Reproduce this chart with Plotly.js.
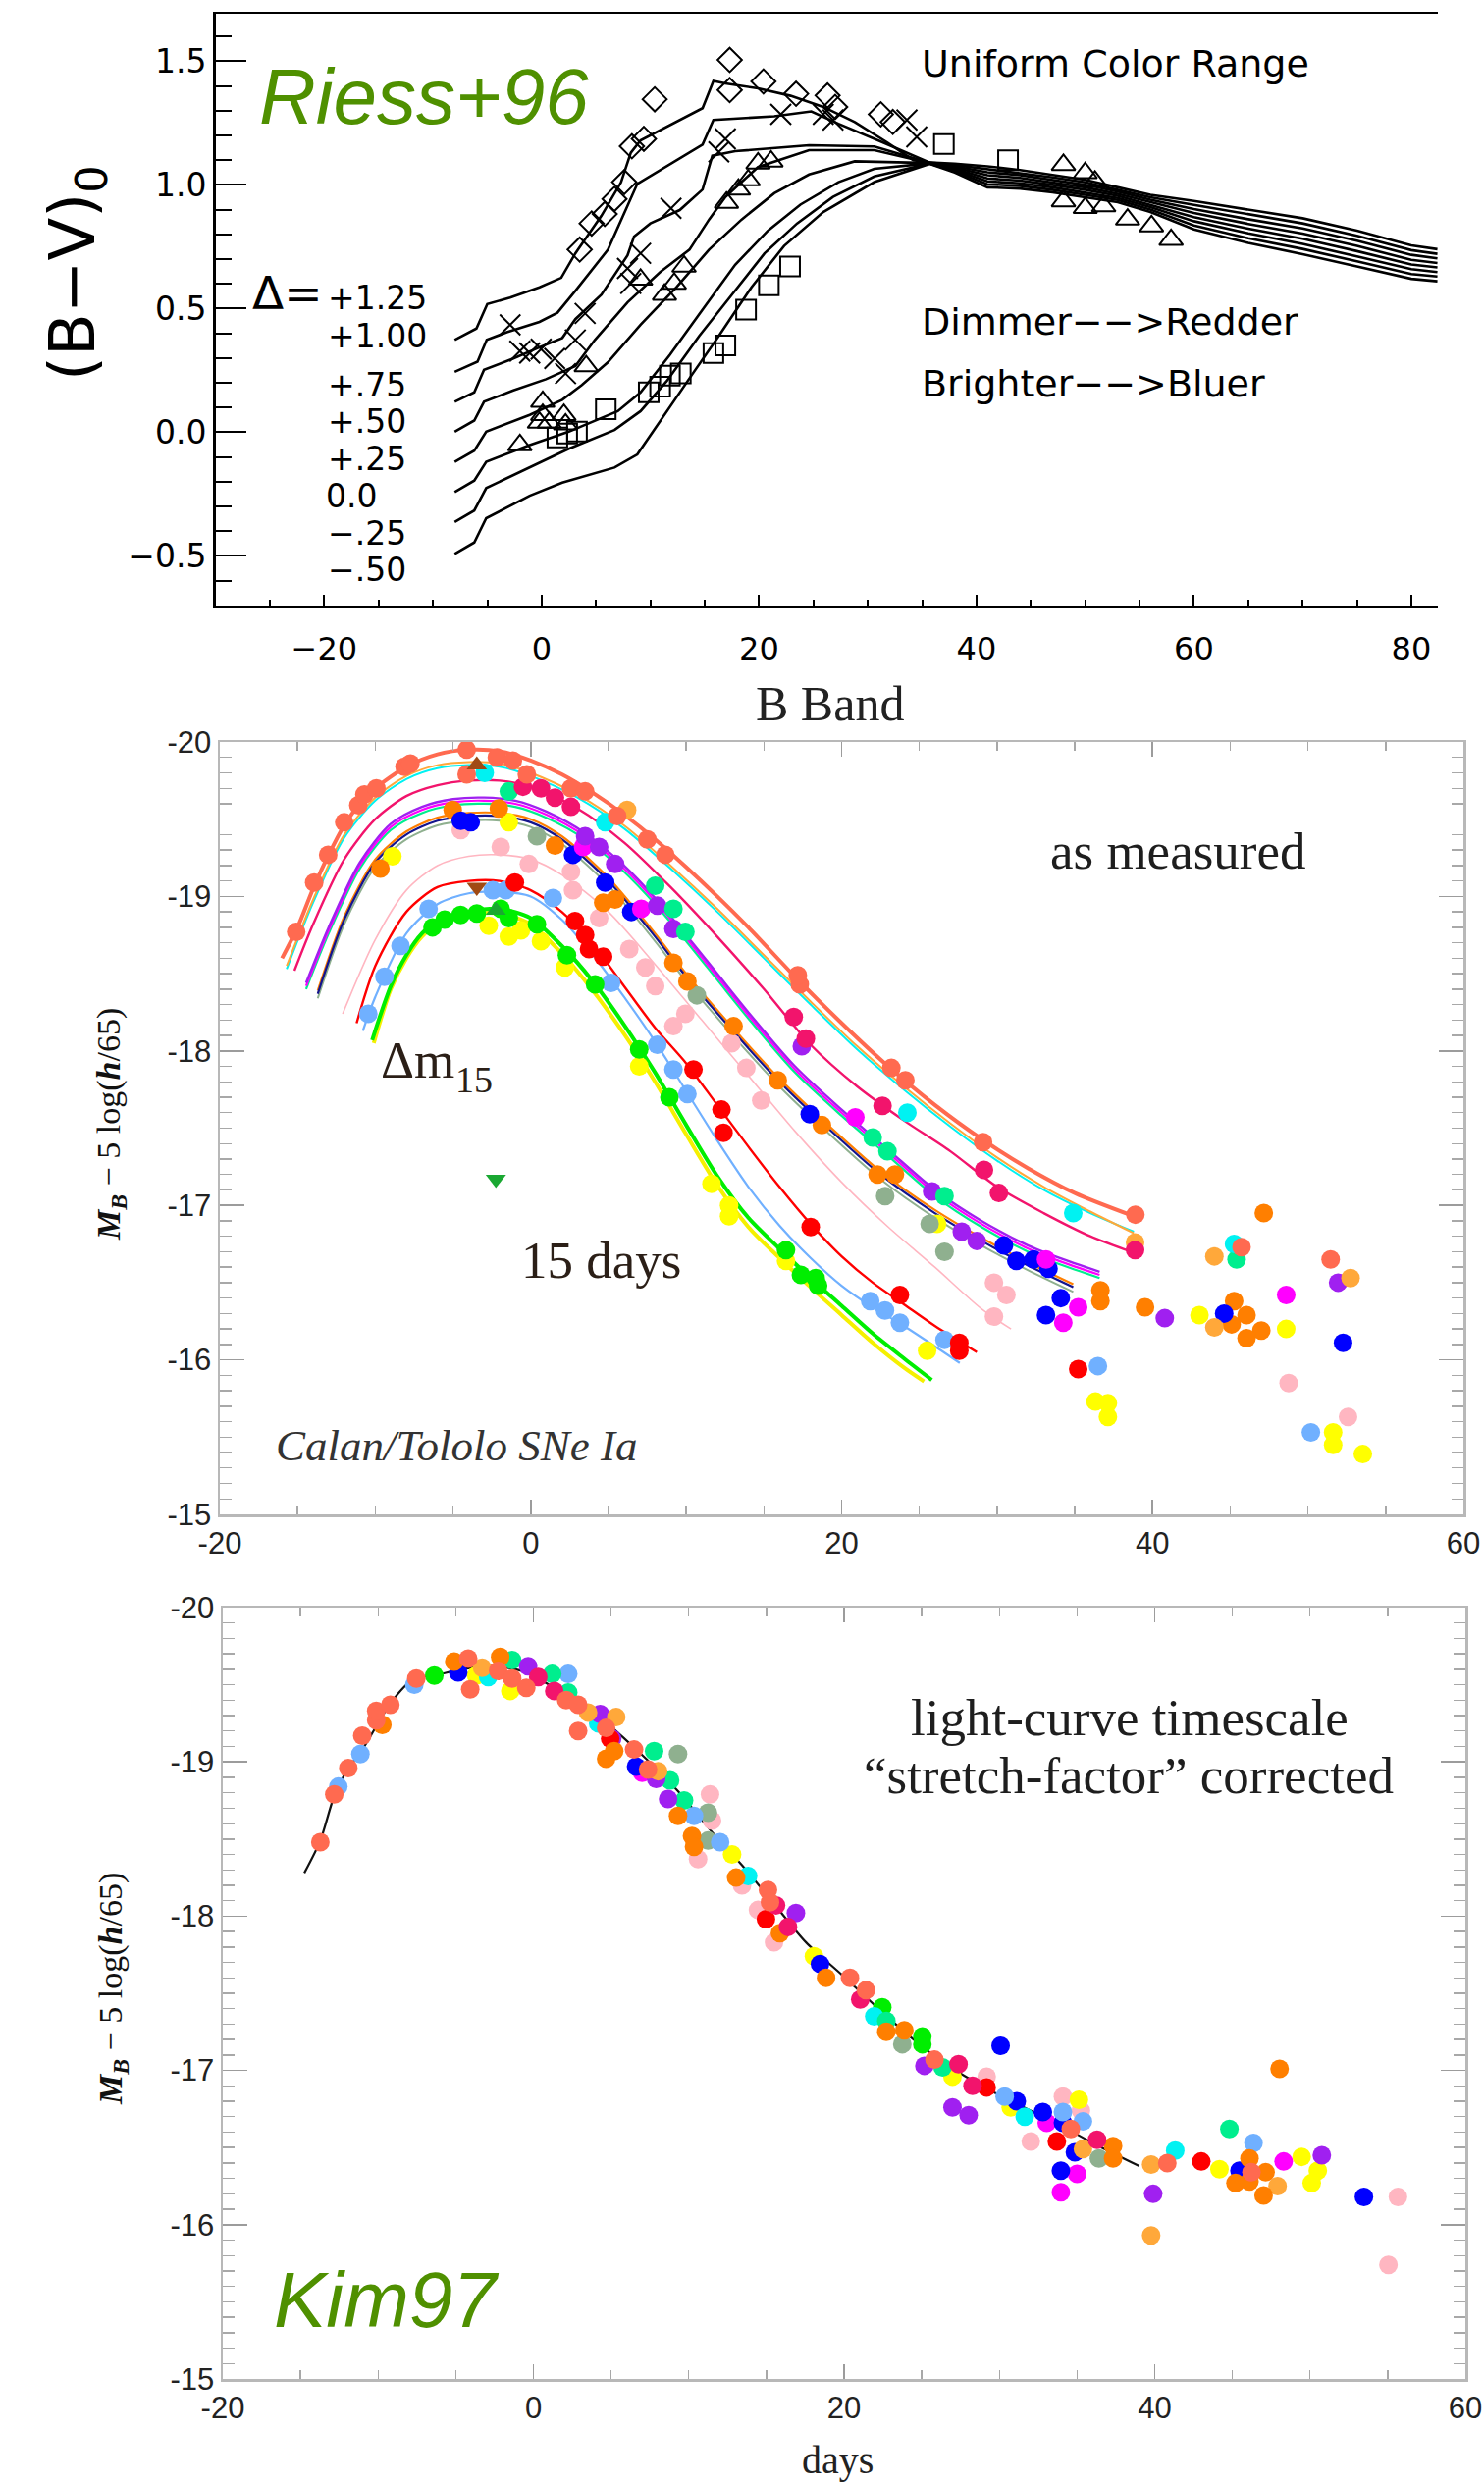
<!DOCTYPE html>
<html><head><meta charset="utf-8">
<script src="https://cdn.plot.ly/plotly-3.0.1.min.js"></script>
<style>html,body{margin:0;padding:0;background:#fff}#chart{width:1512px;height:2530px}</style>
</head><body><div id="chart"></div>
<script>
// ---------------- Panel 1 (Riess+96) : (B-V)0 colour curves ----------------
const riessC1X=[-8.0,-6.0,-5.0,-2.9,-0.2,1.8,3.1,5.5,7.3,8.2,9.1,14.8,15.8,16.9,19.9,22.9,25.9,28.8,31.8,34.2,35.7,38,41,44,47,50,53,56,60,65,70,75,80,82.4];
const riessC1Y=[0.373,0.419,0.518,0.544,0.586,0.624,0.723,0.875,1.01,1.13,1.18,1.31,1.42,1.41,1.39,1.36,1.315,1.254,1.171,1.10,1.09,1.085,1.075,1.06,1.04,1.02,0.99,0.96,0.935,0.90,0.865,0.815,0.755,0.74];
const riessC2X=[-8.0,-5.9,-5.05,-3.2,-0.2,1.45,3.1,6.1,8.8,14.8,15.8,21.4,24.8,27.3,31.2,35.7,38,41,44,47,50,53,56,60,65,70,75,80,82.4];
const riessC2Y=[0.244,0.285,0.373,0.404,0.446,0.483,0.571,0.738,1.004,1.163,1.262,1.277,1.297,1.247,1.175,1.09,1.08,1.063,1.049,1.03,1.01,0.981,0.95,0.919,0.881,0.844,0.794,0.736,0.721];
const riessC3X=[-8.0,-6.2,-5.3,-2.6,-0.2,1.9,3.1,5.5,7.9,8.5,10.0,12.7,14.8,15.7,17.8,24.6,30.6,35.7,38,41,44,47,50,53,56,60,65,70,75,80,82.4];
const riessC3Y=[0.123,0.161,0.252,0.298,0.343,0.381,0.457,0.556,0.715,0.791,0.844,0.898,0.981,1.118,1.136,1.16,1.155,1.089,1.075,1.051,1.039,1.02,1.0,0.973,0.94,0.902,0.861,0.824,0.774,0.717,0.703];
const riessC4X=[-8.0,-6.2,-5.3,-2.6,0.4,3.1,4.9,7.9,10.9,13.6,15.4,16.9,19.9,24.6,30.6,35.7,38,41,44,47,50,53,56,60,65,70,75,80,82.4];
const riessC4Y=[0.002,0.047,0.123,0.169,0.214,0.267,0.373,0.525,0.647,0.738,0.86,0.951,1.072,1.14,1.14,1.088,1.07,1.039,1.028,1.01,0.99,0.964,0.93,0.886,0.842,0.803,0.753,0.697,0.684];
const riessC5X=[-8.0,-6.2,-5.1,-1.1,1.9,3.7,6.1,9.1,12.4,15.4,18.4,21.4,24.6,28.8,35.7,38,41,44,47,50,53,56,60,65,70,75,80,82.4];
const riessC5Y=[-0.120,-0.075,0.002,0.07,0.131,0.191,0.283,0.434,0.586,0.738,0.86,0.966,1.042,1.095,1.088,1.065,1.026,1.017,1.0,0.98,0.956,0.92,0.869,0.823,0.782,0.732,0.678,0.666];
const riessC6X=[-8.0,-6.2,-5.1,-1.1,2.5,7.0,9.1,11.8,14.8,17.8,20.8,23.8,27.3,30.6,35.7,38,41,44,47,50,53,56,60,65,70,75,80,82.4];
const riessC6Y=[-0.242,-0.196,-0.12,-0.052,0.002,0.085,0.161,0.313,0.495,0.677,0.814,0.92,1.011,1.065,1.087,1.06,1.014,1.006,0.99,0.97,0.947,0.91,0.853,0.804,0.761,0.711,0.659,0.647];
const riessC7X=[-8.0,-6.2,-5.1,-1.1,2.5,6.7,9.1,11.5,14.5,17.5,20.5,23.5,26.8,30.6,35.7,38,41,44,47,50,53,56,60,65,70,75,80,82.4];
const riessC7Y=[-0.363,-0.317,-0.226,-0.143,-0.067,0.009,0.085,0.206,0.389,0.556,0.723,0.844,0.951,1.034,1.086,1.055,1.002,0.996,0.98,0.96,0.939,0.90,0.836,0.784,0.741,0.691,0.639,0.629];
const riessC8X=[-8.0,-6.2,-5.1,-1.1,1.9,6.7,8.8,11.5,13.9,16.3,19.3,22.3,25.9,30.6,35.7,38,41,44,47,50,53,56,60,65,70,75,80,82.4];
const riessC8Y=[-0.492,-0.446,-0.348,-0.257,-0.204,-0.143,-0.09,0.085,0.237,0.389,0.586,0.753,0.89,1.011,1.085,1.05,0.99,0.985,0.97,0.95,0.93,0.89,0.82,0.765,0.72,0.67,0.62,0.61];

const riessDiamondX=[17.3,10.4,20.4,17.3,23.4,26.3,27.0,31.2,32.3,9.4,8.3,7.6,6.7,5.8,4.6,3.5];
const riessDiamondY=[1.505,1.346,1.418,1.383,1.368,1.361,1.315,1.285,1.254,1.186,1.156,1.011,0.943,0.882,0.844,0.738];
const riessCrossX=[-2.9,-2.0,-1.1,-0.05,1.2,2.2,3.1,4.0,7.9,8.2,9.1,11.9,16.3,16.9,22.0,25.9,26.8,33.6,34.5];
const riessCrossY=[0.434,0.328,0.32,0.336,0.298,0.237,0.373,0.48,0.662,0.601,0.723,0.905,1.133,1.186,1.285,1.285,1.262,1.262,1.194];
const riessTriX=[-2.0,0.1,0.1,-0.2,0.7,2.05,2.2,4.1,9.1,11.3,12.2,13.1,17.0,18.1,19.0,19.9,21.1,48.0,50.0,50.9,48.0,50.0,51.7,53.9,56.1,57.9];
const riessTriY=[-0.052,0.123,0.07,0.039,0.039,0.07,0.032,0.267,0.617,0.556,0.601,0.67,0.928,0.981,1.019,1.087,1.095,1.081,1.048,1.014,0.934,0.907,0.914,0.86,0.833,0.778];
const riessSquareX=[1.45,2.35,3.25,5.9,9.85,10.9,11.8,12.8,15.8,16.9,18.8,20.9,22.85,37.0,42.9];
const riessSquareY=[-0.021,-0.006,0.002,0.093,0.161,0.184,0.229,0.237,0.32,0.351,0.495,0.594,0.67,1.165,1.10];
const riessDeltaLabels=['+1.25','+1.00','+.75','+.50','+.25','0.0','\u2212.25','\u2212.50'];

// ---------------- Panel 2 (Calan/Tololo, as measured) ----------------
const calTomatoLineX=[-16,-15,-14,-13,-12,-11,-10,-8,-6,-4,-2,0,2,4,6,8,10,12,14,17,20,23,26,29,32,35,38.8];
const calTomatoLineY=[-18.60,-18.80,-19.05,-19.27,-19.46,-19.60,-19.70,-19.84,-19.92,-19.95,-19.94,-19.88,-19.79,-19.67,-19.53,-19.37,-19.19,-19.00,-18.80,-18.48,-18.18,-17.90,-17.65,-17.43,-17.24,-17.08,-16.93];
const calSandyLineX=[-15.7,-14,-12,-10,-8,-6,-4,-2,0,3,6,9,12,15,18,21,24,27,30,33,36,38.8];
const calSandyLineY=[-18.55,-18.98,-19.40,-19.64,-19.78,-19.85,-19.87,-19.86,-19.80,-19.66,-19.46,-19.20,-18.92,-18.62,-18.32,-18.03,-17.77,-17.53,-17.31,-17.12,-16.96,-16.82];
const calCyanLineY=[-18.53,-18.96,-19.38,-19.62,-19.76,-19.83,-19.85,-19.84,-19.78,-19.64,-19.44,-19.18,-18.90,-18.60,-18.30,-18.01,-17.75,-17.51,-17.29,-17.10,-16.95,-16.83];
const calDeeppinkLineX=[-15.2,-14,-12,-10,-8,-6,-4,-2,0,3,6,9,12,15,18,21,24,27,30,33,36,38.9];
const calDeeppinkLineY=[-18.52,-18.82,-19.24,-19.50,-19.65,-19.72,-19.75,-19.75,-19.71,-19.57,-19.35,-19.06,-18.74,-18.40,-18.04,-17.77,-17.55,-17.35,-17.12,-16.95,-16.80,-16.69];
const calPurpleLineX=[-14.45,-13,-11,-9,-7,-5,-3,-1,1,3.5,6,8,10,12,14,17,20,23,26,29,32,34,36.6];
const calPurpleLineY=[-18.44,-18.80,-19.22,-19.47,-19.58,-19.63,-19.64,-19.62,-19.55,-19.41,-19.20,-18.99,-18.75,-18.50,-18.25,-17.90,-17.62,-17.36,-17.10,-16.90,-16.74,-16.66,-16.57];
const calMagentaLineY=[-18.42,-18.78,-19.20,-19.45,-19.56,-19.61,-19.62,-19.60,-19.53,-19.39,-19.18,-18.97,-18.73,-18.48,-18.23,-17.88,-17.60,-17.34,-17.08,-16.88,-16.72,-16.64,-16.55];
const calSpringLineY=[-18.40,-18.76,-19.18,-19.43,-19.54,-19.59,-19.60,-19.58,-19.51,-19.37,-19.16,-18.95,-18.71,-18.46,-18.21,-17.86,-17.58,-17.32,-17.06,-16.86,-16.70,-16.62,-16.53];
const calNavyLineX=[-13.7,-12,-10,-8,-6,-4,-2,0,2,5,8,10,13,16,18.7,22.5,26,29,32,34.9];
const calNavyLineY=[-18.37,-18.85,-19.22,-19.40,-19.49,-19.52,-19.52,-19.48,-19.37,-19.10,-18.74,-18.48,-18.13,-17.80,-17.54,-17.20,-16.95,-16.77,-16.61,-16.47];
const calOrangeLineY=[-18.39,-18.87,-19.24,-19.42,-19.51,-19.54,-19.54,-19.50,-19.39,-19.12,-18.76,-18.50,-18.15,-17.82,-17.56,-17.22,-16.97,-16.79,-16.63,-16.49];
const calSeaLineY=[-18.34,-18.82,-19.19,-19.37,-19.46,-19.49,-19.49,-19.45,-19.34,-19.07,-18.71,-18.45,-18.10,-17.77,-17.51,-17.17,-16.92,-16.74,-16.58,-16.44];
const calPinkLineX=[-12.1,-10,-8,-6,-4,-2,0,2,5,8,11,14,17,20,23,26,29,30.9];
const calPinkLineY=[-18.24,-18.72,-19.04,-19.20,-19.26,-19.27,-19.24,-19.14,-18.90,-18.56,-18.20,-17.84,-17.48,-17.15,-16.86,-16.60,-16.33,-16.20];
const calRedLineX=[-11.2,-10,-8,-6,-4,-2,0,2,4,6,8,10,12,14,16,18,20,22,24,26,28.7];
const calRedLineY=[-18.18,-18.55,-18.90,-19.06,-19.10,-19.10,-19.04,-18.90,-18.69,-18.42,-18.15,-17.92,-17.65,-17.38,-17.12,-16.88,-16.67,-16.50,-16.36,-16.22,-16.05];
const calLightblueLineX=[-10.8,-10,-8,-6,-4,-2,0,2,4,6,8,10,12,14,16,18,20,22,24,27.6];
const calLightblueLineY=[-18.13,-18.35,-18.76,-18.95,-19.02,-19.03,-19.00,-18.85,-18.62,-18.35,-18.06,-17.74,-17.42,-17.12,-16.87,-16.66,-16.48,-16.34,-16.22,-15.98];
const calGreenLineX=[-10.2,-9,-8,-7,-6,-4,-2,0,2,4,6,8,10,12,14,16,18,20,22,24,25.8];
const calGreenLineY=[-18.07,-18.42,-18.62,-18.76,-18.84,-18.90,-18.92,-18.86,-18.68,-18.45,-18.17,-17.86,-17.52,-17.19,-16.92,-16.72,-16.53,-16.35,-16.17,-16.01,-15.87];
const calYellowLineX=[-10.1,-9,-8,-7,-6,-4,-2,0,2,4,6,8,10,12,14,16,18,20,22,24,25.3];
const calYellowLineY=[-18.05,-18.40,-18.60,-18.74,-18.82,-18.88,-18.89,-18.82,-18.63,-18.39,-18.11,-17.80,-17.46,-17.13,-16.86,-16.66,-16.47,-16.29,-16.11,-15.95,-15.86];

const calTomatoX=[-15.09,-13.93,-13.03,-12.0,-11.09,-10.7,-9.93,-8.12,-7.74,-4.12,-4.12,-2.18,-1.15,-0.25,2.59,3.5,5.56,7.5,8.66,17.31,17.18,23.2,24.1,29.1,38.9,45.73,51.46];
const calTomatoY=[-18.77,-19.09,-19.27,-19.48,-19.59,-19.66,-19.70,-19.84,-19.86,-19.95,-19.79,-19.90,-19.88,-19.79,-19.70,-19.68,-19.52,-19.37,-19.27,-18.43,-18.49,-17.89,-17.81,-17.41,-16.94,-16.73,-16.65];
const calCyanX=[-2.96,4.79,24.23,34.9,45.25];
const calCyanY=[-19.80,-19.48,-17.60,-16.95,-16.75];
const calSandyX=[6.2,38.88,43.98,52.74,43.98];
const calSandyY=[-19.56,-16.76,-16.67,-16.53,-16.21];
const calDeeppinkX=[-0.5,0.66,1.56,2.59,16.92,17.7,22.63,29.16,30.12,38.88];
const calDeeppinkY=[-19.71,-19.70,-19.64,-19.58,-18.22,-18.08,-17.645,-17.23,-17.08,-16.71];
const calSpringX=[-1.41,8.01,9.18,9.95,22.0,22.95,26.62,45.41];
const calSpringY=[-19.68,-19.07,-18.92,-18.77,-17.44,-17.35,-17.06,-16.65];
const calPurpleX=[3.5,4.4,5.43,8.14,9.18,17.44,25.82,27.73,28.69,40.79,51.94];
const calPurpleY=[-19.39,-19.32,-19.21,-18.94,-18.79,-18.03,-17.09,-16.83,-16.77,-16.27,-16.50];
const calMagentaX=[3.37,7.11,20.88,33.15,35.22,34.26,48.6];
const calMagentaY=[-19.32,-18.92,-17.57,-16.65,-16.34,-16.24,-16.42];
const calBlueX=[-4.5,-3.86,2.72,4.79,6.47,17.95,30.44,31.24,32.35,33.31,34.1,33.15,44.61,52.26];
const calBlueY=[-19.49,-19.48,-19.27,-19.09,-18.90,-17.59,-16.74,-16.64,-16.65,-16.59,-16.40,-16.29,-16.30,-16.11];
const calOrangeX=[-9.67,-5.02,-2.05,1.56,4.66,5.43,9.18,10.08,13.05,15.89,18.73,22.31,23.43,36.65,36.65,39.52,45.25,46.05,45.09,47.0,46.05,47.16];
const calOrangeY=[-19.18,-19.56,-19.57,-19.33,-18.96,-18.98,-18.57,-18.45,-18.16,-17.81,-17.52,-17.20,-17.20,-16.45,-16.38,-16.34,-16.38,-16.29,-16.23,-16.19,-16.14,-16.95];
const calSeaX=[0.4,10.69,22.8,25.66,26.62];
const calSeaY=[-19.39,-18.36,-17.06,-16.88,-16.70];
const calYellowX=[-8.9,-1.41,-2.7,-1.41,-0.63,0.66,2.2,6.98,11.63,12.76,12.76,16.42,25.5,26.14,43.02,48.6,36.33,37.13,37.13,51.62,51.62,53.53];
const calYellowY=[-19.26,-19.48,-18.81,-18.74,-18.78,-18.71,-18.54,-17.90,-17.14,-17.00,-16.93,-16.64,-16.06,-16.88,-16.29,-16.20,-15.73,-15.72,-15.63,-15.53,-15.45,-15.39];
const calPinkX=[-4.5,-1.93,-0.12,2.59,2.72,4.4,6.34,7.37,8.01,9.18,9.95,12.92,13.87,14.83,29.8,30.6,29.8,48.76,52.58];
const calPinkY=[-19.43,-19.32,-19.21,-19.16,-19.04,-18.86,-18.66,-18.54,-18.42,-18.16,-18.24,-18.05,-17.89,-17.68,-16.50,-16.42,-16.28,-15.85,-15.63];
const calRedX=[-1.02,2.85,3.5,3.75,4.66,10.47,12.27,12.4,18.01,23.75,27.57,27.57,35.22];
const calRedY=[-19.09,-18.84,-18.75,-18.66,-18.61,-17.88,-17.62,-17.47,-16.86,-16.42,-16.11,-16.06,-15.94];
const calLightblueX=[-10.45,-9.41,-8.38,-6.57,-2.44,-1.6,1.43,5.17,8.14,9.18,10.08,21.84,22.79,23.75,26.62,36.49,50.19];
const calLightblueY=[-18.24,-18.48,-18.68,-18.92,-19.04,-19.04,-18.99,-18.44,-18.04,-17.88,-17.72,-16.38,-16.32,-16.24,-16.13,-15.96,-15.53];
const calGreenX=[-6.32,-5.54,-4.51,-3.47,-1.93,-1.41,0.4,2.33,4.14,6.98,8.92,16.42,17.38,18.33,18.49];
const calGreenY=[-18.80,-18.85,-18.88,-18.89,-18.92,-18.86,-18.82,-18.62,-18.43,-18.01,-17.70,-16.71,-16.55,-16.53,-16.48];
const calBrownTriX=[-3.47,-3.47];
const calBrownTriY=[-19.85,-19.06];
const calGreenTriX=[-2.24,-2.24];
const calGreenTriY=[-18.91,-17.17];

// ---------------- Panel 3 (Kim97, stretch corrected) ----------------
const kimCurveX=[-14.75,-13.72,-12.82,-11.92,-11.14,-10.12,-9.21,-7.67,-6.38,-4.58,-2.52,-0.46,1.34,3.4,5.2,7.25,9.31,11.37,13.43,15.49,17.55,19.86,22,24,26,28,30,32,34,36,39];
const kimCurveY=[-18.28,-18.49,-18.78,-18.96,-19.06,-19.23,-19.38,-19.54,-19.56,-19.60,-19.62,-19.58,-19.48,-19.36,-19.21,-19.02,-18.81,-18.56,-18.33,-18.08,-17.83,-17.62,-17.42,-17.24,-17.08,-16.95,-16.84,-16.74,-16.64,-16.53,-16.38];
const kimTomatoX=[-13.72,-12.82,-11.92,-11.02,-10.12,-10.12,-9.21,-7.54,-4.07,-4.20,-2.27,-1.37,-0.46,2.11,2.88,2.88,4.68,6.48,7.38,15.10,15.23,20.38,21.41,25.82,34.60,40.81,46.23];
const kimTomatoY=[-18.48,-18.79,-18.96,-19.17,-19.27,-19.33,-19.37,-19.54,-19.47,-19.67,-19.59,-19.54,-19.48,-19.40,-19.37,-19.20,-19.22,-19.08,-18.95,-18.17,-18.09,-17.60,-17.52,-17.07,-16.62,-16.40,-16.34];
const kimLightblueX=[-12.56,-11.14,-7.67,2.24,10.34,12.02,30.34,34.09,35.38,46.36];
const kimLightblueY=[-18.84,-19.05,-19.50,-19.57,-18.65,-18.48,-16.83,-16.73,-16.67,-16.53];
const kimOrangeX=[-9.73,-5.10,-2.14,4.68,5.20,9.31,10.21,10.34,13.05,15.87,18.84,22.72,23.88,37.32,37.32,46.10,47.14,45.20,46.10,47.01,48.04];
const kimOrangeY=[-19.24,-19.65,-19.68,-19.02,-19.07,-18.65,-18.52,-18.45,-18.25,-17.89,-17.60,-17.25,-17.26,-16.51,-16.43,-16.43,-16.34,-16.27,-16.28,-16.19,-17.01];
const kimGreenX=[-6.38,22.46,25.04,25.04];
const kimGreenY=[-19.56,-17.41,-17.22,-17.17];
const kimBlueX=[-4.84,6.61,18.45,30.08,31.12,32.80,34.09,34.86,33.96,45.46,53.47];
const kimBlueY=[-19.58,-18.97,-17.69,-17.16,-16.80,-16.73,-16.66,-16.47,-16.35,-16.35,-16.18];
const kimYellowX=[-3.68,-1.49,12.79,18.06,26.98,30.73,35.12,44.17,49.46,50.50,50.11];
const kimYellowY=[-19.56,-19.46,-18.40,-17.74,-16.96,-16.76,-16.81,-16.36,-16.44,-16.35,-16.27];
const kimSandyX=[-3.30,3.52,5.33,8.03,35.38,39.77,39.77,47.91];
const kimSandyY=[-19.61,-19.32,-19.29,-18.94,-16.49,-16.39,-15.93,-16.25];
const kimCyanX=[-2.91,4.17,13.82,21.94,31.63,41.32];
const kimCyanY=[-19.55,-19.25,-18.26,-17.35,-16.70,-16.48];
const kimSpringX=[-1.37,1.21,2.24,7.77,8.80,9.70,22.72,26.34,44.81];
const kimSpringY=[-19.66,-19.57,-19.45,-19.07,-18.88,-18.75,-17.32,-17.02,-16.62];
const kimPurpleX=[-0.34,4.30,5.07,7.90,8.67,16.90,25.17,26.98,28.02,39.90,50.76];
const kimPurpleY=[-19.62,-19.31,-19.15,-18.89,-18.76,-18.02,-17.03,-16.76,-16.71,-16.20,-16.45];
const kimDeeppinkX=[0.31,1.34,15.62,16.39,21.04,27.37,28.27,36.29];
const kimDeeppinkY=[-19.55,-19.46,-18.07,-17.93,-17.46,-17.04,-16.90,-16.55];
const kimRedX=[4.94,14.97,29.18,33.70,43.00];
const kimRedY=[-19.15,-17.98,-16.89,-16.54,-16.41];
const kimSeaX=[9.31,11.24,11.24,23.75,36.41];
const kimSeaY=[-19.05,-18.67,-18.49,-17.17,-16.43];
const kimMagentaX=[7.00,33.05,35.00,33.96,48.30];
const kimMagentaY=[-18.93,-16.66,-16.33,-16.21,-16.41];
const kimPinkX=[11.37,11.50,10.60,13.43,14.46,15.49,29.18,34.09,35.25,32.02,55.66,55.05];
const kimPinkY=[-18.79,-18.62,-18.37,-18.20,-18.04,-17.83,-16.96,-16.83,-16.74,-16.54,-16.18,-15.74];

const magTickVals=[-20,-19,-18,-17,-16,-15];
const magTickText=['-20','-19','-18','-17','-16','-15'];
const dayTickVals=[-20,0,20,40,60];
const dayTickText=['-20','0','20','40','60'];

// ---------------- helpers ----------------
const W=1512,H=2530;
const fx=p=>p/W, fy=p=>1-p/H;
const C={tomato:'#ff6a50',cyan:'#00f2f2',sandy:'#ffa83a',deeppink:'#f2146c',purple:'#a020f0',magenta:'#ff00ff',spring:'#00ee8e',blue:'#0000ff',navy:'#14148c',orange:'#ff7f00',sea:'#8fb08f',yellow:'#ffff00',pink:'#ffb6c1',red:'#ff0000',lightblue:'#70b0ff',green:'#00ee00'};
const traces=[];
function bline(x,y){traces.push({type:'scatter',mode:'lines',x:x,y:y,xaxis:'x',yaxis:'y',line:{color:'#000',width:2.6},hoverinfo:'skip',showlegend:false});}
function bsym(x,y,sym,size){traces.push({type:'scatter',mode:'markers',x:x,y:y,xaxis:'x',yaxis:'y',marker:{symbol:sym,size:size,color:'#000',line:{color:'#000',width:2}},hoverinfo:'skip',showlegend:false});}
function cline(x,y,color,w,xa,ya){traces.push({type:'scatter',mode:'lines',x:x,y:y,xaxis:xa,yaxis:ya,line:{color:color,width:w,shape:'spline',smoothing:0.8},hoverinfo:'skip',showlegend:false});}
function cdots(x,y,color,xa,ya,size){traces.push({type:'scatter',mode:'markers',x:x,y:y,xaxis:xa,yaxis:ya,marker:{color:color,size:size||19,line:{width:0}},hoverinfo:'skip',showlegend:false});}

// panel 1
[[riessC1X,riessC1Y],[riessC2X,riessC2Y],[riessC3X,riessC3Y],[riessC4X,riessC4Y],[riessC5X,riessC5Y],[riessC6X,riessC6Y],[riessC7X,riessC7Y],[riessC8X,riessC8Y]].forEach(c=>bline(c[0],c[1]));
bsym(riessDiamondX,riessDiamondY,'diamond-open',19);
bsym(riessCrossX,riessCrossY,'x-thin-open',21);
bsym(riessTriX,riessTriY,'triangle-up-open',21);
bsym(riessSquareX,riessSquareY,'square-open',20);

// panel 2 lines
cline(calPinkLineX,calPinkLineY,C.pink,1.6,'x2','y2');
cline(calNavyLineX,calSeaLineY,C.sea,2,'x2','y2');
cline(calNavyLineX,calOrangeLineY,C.orange,2.2,'x2','y2');
cline(calNavyLineX,calNavyLineY,C.navy,2.2,'x2','y2');
cline(calPurpleLineX,calSpringLineY,C.spring,2.2,'x2','y2');
cline(calPurpleLineX,calMagentaLineY,C.magenta,2.2,'x2','y2');
cline(calPurpleLineX,calPurpleLineY,C.purple,2.4,'x2','y2');
cline(calDeeppinkLineX,calDeeppinkLineY,C.deeppink,2.4,'x2','y2');
cline(calSandyLineX,calCyanLineY,C.cyan,2,'x2','y2');
cline(calSandyLineX,calSandyLineY,C.sandy,2,'x2','y2');
cline(calTomatoLineX,calTomatoLineY,C.tomato,4,'x2','y2');
cline(calLightblueLineX,calLightblueLineY,C.lightblue,2.2,'x2','y2');
cline(calRedLineX,calRedLineY,C.red,2.4,'x2','y2');
cline(calYellowLineX,calYellowLineY,'#f5f000',4,'x2','y2');
cline(calGreenLineX,calGreenLineY,C.green,4,'x2','y2');
// panel 2 dots
cdots(calPinkX,calPinkY,C.pink,'x2','y2');
cdots(calYellowX,calYellowY,C.yellow,'x2','y2');
cdots(calSeaX,calSeaY,C.sea,'x2','y2');
cdots(calOrangeX,calOrangeY,C.orange,'x2','y2');
cdots(calBlueX,calBlueY,C.blue,'x2','y2');
cdots(calMagentaX,calMagentaY,C.magenta,'x2','y2');
cdots(calPurpleX,calPurpleY,C.purple,'x2','y2');
cdots(calSpringX,calSpringY,C.spring,'x2','y2');
cdots(calSandyX,calSandyY,C.sandy,'x2','y2');
cdots(calCyanX,calCyanY,C.cyan,'x2','y2');
cdots(calLightblueX,calLightblueY,C.lightblue,'x2','y2');
cdots(calRedX,calRedY,C.red,'x2','y2');
cdots(calGreenX,calGreenY,C.green,'x2','y2');
cdots(calDeeppinkX,calDeeppinkY,C.deeppink,'x2','y2');
cdots(calTomatoX,calTomatoY,C.tomato,'x2','y2');
traces.push({type:'scatter',mode:'markers',x:[calBrownTriX[0]],y:[calBrownTriY[0]],xaxis:'x2',yaxis:'y2',marker:{symbol:'triangle-up',size:18,color:'#a04a14'},hoverinfo:'skip',showlegend:false});
traces.push({type:'scatter',mode:'markers',x:[calBrownTriX[1]],y:[calBrownTriY[1]],xaxis:'x2',yaxis:'y2',marker:{symbol:'triangle-down',size:18,color:'#a04a14'},hoverinfo:'skip',showlegend:false});
traces.push({type:'scatter',mode:'markers',x:[calGreenTriX[0]],y:[calGreenTriY[0]],xaxis:'x2',yaxis:'y2',marker:{symbol:'triangle-up',size:18,color:'#1aa832'},hoverinfo:'skip',showlegend:false});
traces.push({type:'scatter',mode:'markers',x:[calGreenTriX[1]],y:[calGreenTriY[1]],xaxis:'x2',yaxis:'y2',marker:{symbol:'triangle-down',size:18,color:'#1aa832'},hoverinfo:'skip',showlegend:false});

// panel 3
cline(kimCurveX,kimCurveY,'#111',2.2,'x3','y3');
cdots(kimPinkX,kimPinkY,C.pink,'x3','y3');
cdots(kimSeaX,kimSeaY,C.sea,'x3','y3');
cdots(kimYellowX,kimYellowY,C.yellow,'x3','y3');
cdots(kimMagentaX,kimMagentaY,C.magenta,'x3','y3');
cdots(kimBlueX,kimBlueY,C.blue,'x3','y3');
cdots(kimGreenX,kimGreenY,C.green,'x3','y3');
cdots(kimLightblueX,kimLightblueY,C.lightblue,'x3','y3');
cdots(kimCyanX,kimCyanY,C.cyan,'x3','y3');
cdots(kimSpringX,kimSpringY,C.spring,'x3','y3');
cdots(kimPurpleX,kimPurpleY,C.purple,'x3','y3');
cdots(kimRedX,kimRedY,C.red,'x3','y3');
cdots(kimSandyX,kimSandyY,C.sandy,'x3','y3');
cdots(kimOrangeX,kimOrangeY,C.orange,'x3','y3');
cdots(kimDeeppinkX,kimDeeppinkY,C.deeppink,'x3','y3');
cdots(kimTomatoX,kimTomatoY,C.tomato,'x3','y3');

// ---------------- axes ----------------
const grayAxis={showline:true,linecolor:'#b8b8b8',linewidth:2.5,mirror:'ticks',ticks:'inside',tickcolor:'#9c9c9c',tickwidth:1.6,showgrid:false,zeroline:false,fixedrange:true,tickfont:{family:'Liberation Sans, Arial, sans-serif',size:31,color:'#222'}};
function magAxis(dom,anchor){return Object.assign({},grayAxis,{domain:dom,anchor:anchor,range:[-15,-20],tickmode:'array',tickvals:magTickVals,ticktext:magTickText,ticklen:25,minor:{tickmode:'linear',tick0:0,dtick:0.1,ticks:'inside',ticklen:12,tickwidth:1.4,tickcolor:'#a8a8a8'}});}
function dayAxis(dom,anchor){return Object.assign({},grayAxis,{domain:dom,anchor:anchor,range:[-20,60],tickmode:'array',tickvals:dayTickVals,ticktext:dayTickText,ticklen:15,minor:{tickmode:'linear',tick0:0,dtick:5,ticks:'inside',ticklen:9,tickwidth:1.4,tickcolor:'#a8a8a8'}});}

function ann(text,x,y,size,opts){return Object.assign({text:text,x:fx(x),y:fy(y),xref:'paper',yref:'paper',showarrow:false,xanchor:'left',yanchor:'middle',font:{family:'DejaVu Sans, sans-serif',size:size,color:'#000'}},opts||{});}
const serif='Liberation Serif, Times New Roman, serif';
const annotations=[
  ann('<i>Riess+96</i>',262,98,80,{font:{family:'Liberation Sans, Arial, sans-serif',size:80,color:'#4f9000'}}),
  ann('\u0394=',331,299,47,{xanchor:'right'}),
  ann('Uniform Color Range',937,65,38),
  ann('Dimmer\u2212\u2212>Redder',937,328,38),
  ann('Brighter\u2212\u2212>Bluer',937,391,38),
  ann('(B\u2212V)<sub>0</sub>',78,278,64,{xanchor:'center',textangle:-90}),
  ann('B Band',845,717,50,{xanchor:'center',font:{family:serif,size:50,color:'#222'}}),
  ann('as measured',1068,867,53,{font:{family:serif,size:53,color:'#1e1e1e'}}),
  ann('\u0394m',386,1080,53,{font:{family:serif,size:53,color:'#2b1f17'}}),
  ann('15',462,1100,38,{font:{family:serif,size:38,color:'#2b1f17'}}),
  ann('15 days',529,1284,53,{font:{family:serif,size:53,color:'#2b1f17'}}),
  ann('<i>Calan/Tololo SNe Ia</i>',465,1473,45,{xanchor:'center',font:{family:serif,size:45,color:'#333'}}),
  ann('<b><i>M</i></b><sub><b><i>B</i></b></sub> \u2212 5 log(<b><i>h</i></b>/65)',113,1146,34,{xanchor:'center',textangle:-90,font:{family:serif,size:34,color:'#111'}}),
  ann('light-curve timescale',1151,1750,53,{xanchor:'center',font:{family:serif,size:53,color:'#1e1e1e'}}),
  ann('\u201cstretch-factor\u201d corrected',1150,1809,53,{xanchor:'center',font:{family:serif,size:53,color:'#1e1e1e'}}),
  ann('<i>Kim97</i>',277,2343,80,{font:{family:'Liberation Sans, Arial, sans-serif',size:80,color:'#4f9000'}}),
  ann('<b><i>M</i></b><sub><b><i>B</i></b></sub> \u2212 5 log(<b><i>h</i></b>/65)',115,2027,34,{xanchor:'center',textangle:-90,font:{family:serif,size:34,color:'#111'}}),
  ann('days',853,2506,40,{xanchor:'center',font:{family:serif,size:40,color:'#222'}})
];
const deltaCenters=[303.6,342.6,392,429.6,467.6,505.6,543,580.6];
riessDeltaLabels.forEach((t,i)=>annotations.push(ann(t,i===5?330:332,deltaCenters[i],33)));

const layout={
  width:W,height:H,margin:{l:0,r:0,t:0,b:0},paper_bgcolor:'#fff',plot_bgcolor:'rgba(0,0,0,0)',showlegend:false,
  xaxis:{domain:[fx(219.6),fx(1465)],anchor:'y',range:[-30,82.44],showline:true,linecolor:'#000',linewidth:2.6,mirror:true,ticks:'inside',tickmode:'array',tickvals:[-20,0,20,40,60,80],ticktext:['\u221220','0','20','40','60','80'],ticklen:11,tickwidth:2,tickcolor:'#000',ticklabelstandoff:14,minor:{tickmode:'linear',tick0:0,dtick:5,ticks:'inside',ticklen:6,tickwidth:2,tickcolor:'#000'},tickfont:{family:'DejaVu Sans, sans-serif',size:32,color:'#000'},showgrid:false,zeroline:false,fixedrange:true},
  yaxis:{domain:[fy(617),fy(14.2)],anchor:'x',range:[-0.701,1.691],showline:true,linecolor:'#000',linewidth:2.6,mirror:false,ticks:'inside',tickmode:'array',tickvals:[-0.5,0,0.5,1,1.5],ticktext:['\u22120.5','0.0','0.5','1.0','1.5'],ticklen:31,tickwidth:2,tickcolor:'#000',minor:{tickmode:'linear',tick0:0,dtick:0.1,ticks:'inside',ticklen:16,tickwidth:2,tickcolor:'#000'},tickfont:{family:'DejaVu Sans, sans-serif',size:33,color:'#000'},showgrid:false,zeroline:false,fixedrange:true},
  xaxis2:dayAxis([fx(224),fx(1491)],'y2'),
  yaxis2:magAxis([fy(1543),fy(756)],'x2'),
  xaxis3:dayAxis([fx(227),fx(1493)],'y3'),
  yaxis3:magAxis([fy(2424),fy(1638)],'x3'),
  annotations:annotations
};
Plotly.newPlot('chart',traces,layout,{staticPlot:true,displayModeBar:false});
</script></body></html>
